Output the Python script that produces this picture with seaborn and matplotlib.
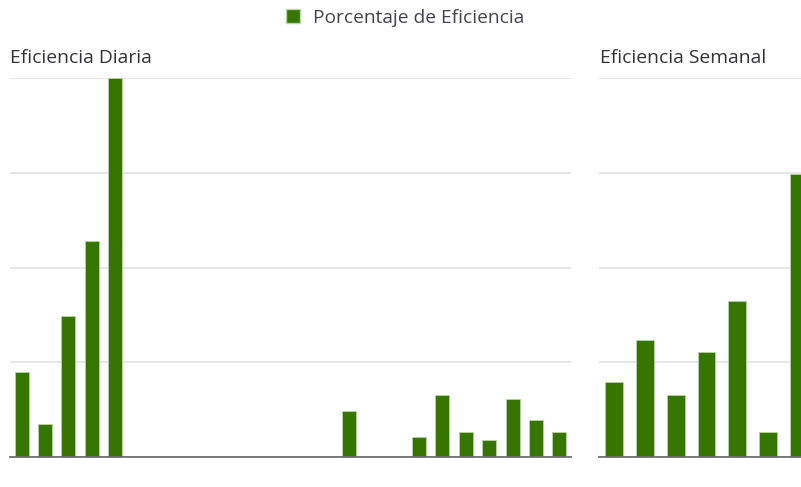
import matplotlib
matplotlib.use("Agg")
import matplotlib.pyplot as plt
import seaborn as sns
from matplotlib.patches import Patch

# ---- data ----
dias = [f"Día {i}" for i in range(1, 25)]
eficiencia_diaria = [22.5, 8.7, 37.2, 57.0, 100.0, 0, 0, 0, 0, 0, 0, 0, 0, 0,
                     12.1, 0, 0, 5.4, 16.4, 6.7, 4.4, 15.4, 9.7, 6.7]
semanas = [f"Semana {i}" for i in range(1, 8)]
eficiencia_semanal = [19.7, 30.9, 16.4, 27.8, 41.2, 6.7, 74.8]
y_ticks = [0, 25, 50, 75, 100]
titulo_diario = "Eficiencia Diaria"
titulo_semanal = "Eficiencia Semanal"
leyenda = "Porcentaje de Eficiencia"

sns.set_theme(style="white")
plt.rcParams['font.family'] = ['Open Sans', 'DejaVu Sans']

W, H = 801, 487
fig = plt.figure(figsize=(W / 100, H / 100), dpi=100)
green = "#367600"
grid_c = "#e3e3e3"
base_c = "#6e6e6e"
text_c = "#33333d"


def style(ax):
    ax.set_ylim(0, 100)
    ax.set_yticks(y_ticks)
    ax.yaxis.grid(True, color=grid_c, linewidth=1.2)
    ax.xaxis.grid(False)
    ax.set_axisbelow(True)
    for s in ["top", "left", "right"]:
        ax.spines[s].set_visible(False)
    ax.spines["bottom"].set_color(base_c)
    ax.spines["bottom"].set_linewidth(1.3)
    ax.tick_params(left=False, bottom=False, labelleft=False, labelbottom=False)
    ax.set_xlabel("")
    ax.set_ylabel("")


ax1 = fig.add_axes([10 / W, 30 / H, 561 / W, 379 / H])
sns.barplot(x=dias, y=eficiencia_diaria, ax=ax1, color=green, width=0.6,
            saturation=1, edgecolor="#b9d3a6", linewidth=0.6)
ax1.set_xlim(-0.5, len(dias) - 0.5)
style(ax1)

ax2 = fig.add_axes([599 / W, 30 / H, (W - 599) / W, 379 / H])
sns.barplot(x=semanas, y=eficiencia_semanal, ax=ax2, color=green, width=0.58,
            saturation=1, edgecolor="#b9d3a6", linewidth=0.6)
ax2.set_xlim(-0.5, 6.08)
style(ax2)

fig.text(10 / W, 1 - 62.7 / H, titulo_diario, ha="left", va="baseline",
         fontsize=13.9, color=text_c, fontweight="medium")
fig.text(600 / W, 1 - 62.7 / H, titulo_semanal, ha="left", va="baseline",
         fontsize=13.9, color=text_c, fontweight="medium")

fig.legend(handles=[Patch(facecolor=green, edgecolor="#b9d3a6")], labels=[leyenda],
           loc="center", bbox_to_anchor=(405 / W, 1 - 18 / H), frameon=False,
           fontsize=13.8, labelcolor="#444450", handlelength=0.75, handleheight=0.75,
           handletextpad=0.65, borderpad=0.2)

fig.savefig("out.png", dpi=100)
